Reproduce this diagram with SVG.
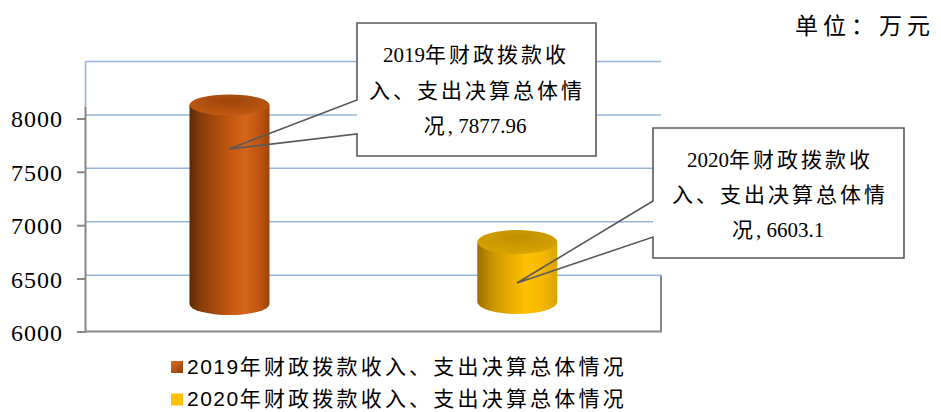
<svg xmlns="http://www.w3.org/2000/svg" width="941" height="412" viewBox="0 0 941 412">
<style>
.grid{stroke:#95b3d7;stroke-width:1.6;fill:none}
.axis{stroke:#868686;stroke-width:2;fill:none}
.ylab{font-family:"Liberation Serif",serif;font-size:24px;letter-spacing:1px;fill:#000;text-anchor:end}
.call{fill:none;stroke:#595959;stroke-width:1.6}
.ct{font-family:"Liberation Serif","Noto Sans CJK SC",serif;font-size:21px;fill:#000;text-anchor:middle}
.cj{font-family:"Noto Sans CJK SC",sans-serif;letter-spacing:3px}
.lg{font-family:"Liberation Sans","Noto Sans CJK SC",sans-serif;font-size:21px;fill:#000}
.lgd{letter-spacing:1.5px}
.lgc{font-family:"Noto Sans CJK SC",sans-serif;letter-spacing:3.2px}
</style>
<defs>
<linearGradient id="oSide" x1="0" y1="0" x2="1" y2="0">
<stop offset="0" stop-color="#5a2805"/>
<stop offset="0.15" stop-color="#8a3e0a"/>
<stop offset="0.5" stop-color="#c2570f"/>
<stop offset="0.7" stop-color="#d4661a"/>
<stop offset="0.9" stop-color="#b9520f"/>
<stop offset="1" stop-color="#9a440c"/>
</linearGradient>
<radialGradient id="oTop" cx="0.5" cy="0.3" r="0.7">
<stop offset="0" stop-color="#9c4409"/>
<stop offset="1" stop-color="#c25a14"/>
</radialGradient>
<linearGradient id="gSide" x1="0" y1="0" x2="1" y2="0">
<stop offset="0" stop-color="#9a6e00"/>
<stop offset="0.2" stop-color="#cc9600"/>
<stop offset="0.6" stop-color="#ffc000"/>
<stop offset="0.8" stop-color="#f7ba00"/>
<stop offset="1" stop-color="#d9a300"/>
</linearGradient>
<radialGradient id="gTop" cx="0.5" cy="0.3" r="0.7">
<stop offset="0" stop-color="#c08f00"/>
<stop offset="1" stop-color="#d8a400"/>
</radialGradient>
<linearGradient id="oMark" x1="0" y1="0" x2="1" y2="1">
<stop offset="0" stop-color="#e07020"/>
<stop offset="1" stop-color="#8a3e0a"/>
</linearGradient>
</defs>

<g id="plot-area">
<line class="grid" x1="85.5" y1="61.5" x2="661" y2="61.5"/>
<line class="grid" x1="85.5" y1="61.5" x2="85.5" y2="107"/>
<line class="grid" x1="85.5" y1="115" x2="661" y2="115"/>
<line class="grid" x1="85.5" y1="168.3" x2="661" y2="168.3"/>
<line class="grid" x1="85.5" y1="221.7" x2="661" y2="221.7"/>
<line class="grid" x1="85.5" y1="275.3" x2="661" y2="275.3"/>
<polyline class="axis" points="661,275.5 661,331.5 85.5,331.5"/>
<line class="axis" x1="85.5" y1="107" x2="85.5" y2="332.5"/>
<line class="axis" x1="77" y1="119" x2="86" y2="119"/>
<line class="axis" x1="77" y1="172.3" x2="86" y2="172.3"/>
<line class="axis" x1="77" y1="225.7" x2="86" y2="225.7"/>
<line class="axis" x1="77" y1="279" x2="86" y2="279"/>
<line class="axis" x1="77" y1="332" x2="86" y2="332"/>
<text class="ylab" x="63" y="127">8000</text>
<text class="ylab" x="63" y="180.5">7500</text>
<text class="ylab" x="63" y="234">7000</text>
<text class="ylab" x="63" y="287.5">6500</text>
<text class="ylab" x="63" y="341">6000</text>
</g>

<g id="bar-2019">
<path d="M189.5,105 L189.5,304 A40,11 0 0,0 269.5,304 L269.5,105 Z" fill="url(#oSide)"/>
<ellipse cx="229.5" cy="105" rx="40" ry="10.5" fill="url(#oTop)"/>
</g>

<g id="bar-2020">
<path d="M477.3,242 L477.3,302 A40,12 0 0,0 557.3,302 L557.3,242 Z" fill="url(#gSide)"/>
<ellipse cx="517.3" cy="242" rx="40" ry="12" fill="url(#gTop)"/>
</g>

<g id="connectors">
<rect x="357" y="23" width="239" height="133" fill="#fff"/>
<path class="call" d="M357,100 V23 H596 V156 H357 V134 L229,149 Z"/>
<rect x="653" y="128" width="251" height="130" fill="#fff"/>
<path class="call" d="M653,201 V128 H904 V258 H653 V237 L517,283 Z"/>
</g>

<g id="label-2019">
<text class="ct" x="476" y="62">2019<tspan class="cj">年财政拨款收</tspan></text>
<text class="ct" x="477" y="97.5"><tspan class="cj">入、支出决算总体情</tspan></text>
<text class="ct" x="475" y="133"><tspan class="cj">况</tspan>, 7877.96</text>
</g>

<g id="label-2020">
<text class="ct" x="780" y="166.5">2020<tspan class="cj">年财政拨款收</tspan></text>
<text class="ct" x="780" y="202"><tspan class="cj">入、支出决算总体情</tspan></text>
<text class="ct" x="778" y="237"><tspan class="cj">况</tspan>, 6603.1</text>
</g>

<g id="unit">
<text x="795" y="34" font-family="Noto Sans CJK SC, sans-serif" font-size="23" letter-spacing="5" fill="#000">单位：万元</text>
</g>

<g id="legend">
<rect x="171" y="361" width="12" height="12" fill="url(#oMark)"/>
<text class="lg" x="187" y="374"><tspan class="lgd">2019</tspan><tspan class="lgc">年财政拨款收入、支出决算总体情况</tspan></text>
<rect x="171" y="393.5" width="12" height="12" fill="#ffc000"/>
<text class="lg" x="187" y="405.5"><tspan class="lgd">2020</tspan><tspan class="lgc">年财政拨款收入、支出决算总体情况</tspan></text>
</g>
</svg>
